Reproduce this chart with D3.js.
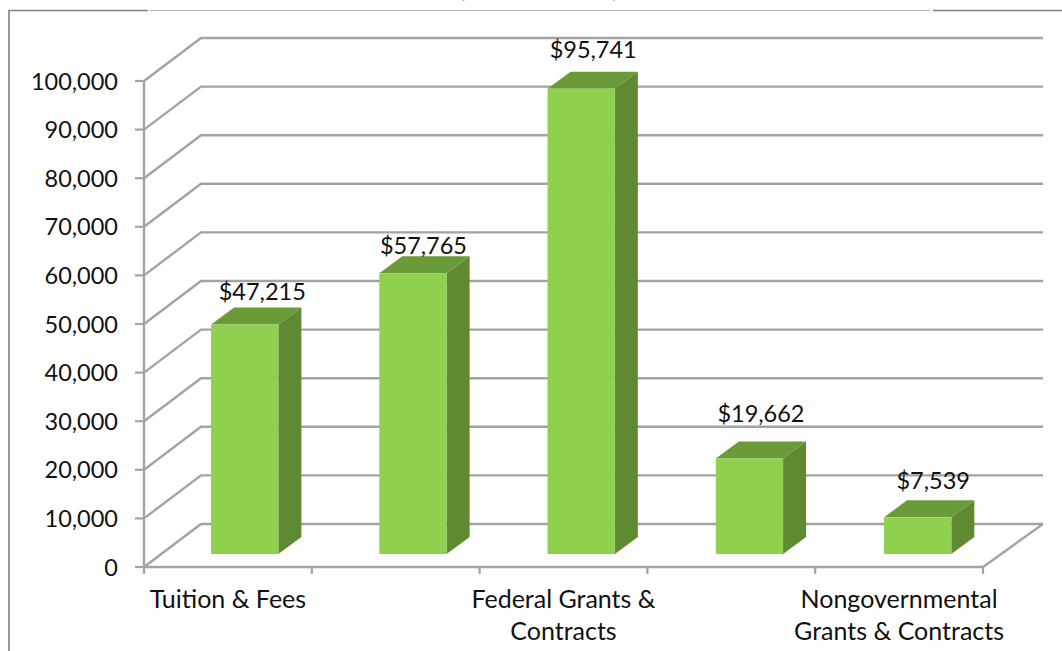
<!DOCTYPE html>
<html><head><meta charset="utf-8">
<script src="https://cdn.jsdelivr.net/npm/d3@7/dist/d3.min.js"></script>
<style>html,body{margin:0;padding:0;background:#fff}svg{display:block}text{font-family:Lato,"Open Sans",sans-serif;fill:#111}</style>
</head><body><svg id="c" width="1062" height="651"></svg>
<script>
const categoryLabels = [["Tuition & Fees"], [], ["Federal Grants &","Contracts"], [], ["Nongovernmental","Grants & Contracts"]];
const values = [47215, 57765, 95741, 19662, 7539];
const valueLabels = ["$47,215","$57,765","$95,741","$19,662","$7,539"];
const yTicks = [0,10000,20000,30000,40000,50000,60000,70000,80000,90000,100000];
const labelNudgeX = [17.5,10.5,12,11.5,15.5];
const labelNudgeY = [-24.5,-19,-30.7,-36,-28];
const fmt = d3.format(",");
const svg = d3.select("#c");
const FS = 23.5, FT = 25;
const y = d3.scaleLinear().domain([0,100000]).range([567,81]);
const edge = d3.scaleLinear().domain([0,5]).range([144,983]);
const band = d3.scaleBand().domain(d3.range(5)).range([160.6,1001.8]).paddingInner(.6).paddingOuter(.3);
const wallDx=57, wallDy=-43, barBase=-13, sideDx=23, sideDy=-17;
const grid="#a3a3a3";
// clipped title fragments and outer frame
svg.append("text").attr("x",462).attr("y",-3).attr("font-size",FT).attr("text-anchor","middle").text("(");
svg.append("text").attr("x",615).attr("y",-3).attr("font-size",FT).attr("text-anchor","middle").text(")");
svg.append("path").attr("d","M9 651V10.5H148").attr("fill","none").attr("stroke","#808080").attr("stroke-width",1.6);
svg.append("path").attr("d","M150 10.5H930").attr("fill","none").attr("stroke","#b5b5b5").attr("stroke-width",1.2);
svg.append("path").attr("d","M933 10.5H1062").attr("fill","none").attr("stroke","#808080").attr("stroke-width",1.6);
// gridlines
svg.append("g").selectAll("path").data(yTicks).join("path")
 .attr("d",d=>`M${edge(0)} ${y(d)}L${edge(0)+wallDx} ${y(d)+wallDy}H${edge(5)+60}`)
 .attr("fill","none").attr("stroke",grid).attr("stroke-width",2.4);
svg.append("path").attr("d",`M${edge(5)} ${y(0)}L${edge(5)+60} ${y(0)+wallDy}`).attr("fill","none").attr("stroke",grid).attr("stroke-width",2.4);
// axes
svg.append("path").attr("d",`M${edge(0)} ${y(100000)}V${y(0)}H${edge(5)}`).attr("fill","none").attr("stroke",grid).attr("stroke-width",2.4);
svg.append("g").selectAll("line").data(yTicks).join("line").attr("x1",135).attr("x2",144).attr("y1",d=>y(d)).attr("y2",d=>y(d)).attr("stroke",grid).attr("stroke-width",2.2);
svg.append("g").selectAll("line").data(d3.range(6)).join("line").attr("x1",d=>edge(d)).attr("x2",d=>edge(d)).attr("y1",567).attr("y2",574).attr("stroke",grid).attr("stroke-width",2.2);
svg.append("g").selectAll("text").data(yTicks).join("text").attr("x",118).attr("y",d=>y(d)+8.5).attr("text-anchor","end").attr("font-size",FS).text(d=>fmt(d));
// bars
const bars=svg.append("g").selectAll("g").data(values).join("g");
const h=d=>y(d)+barBase;
bars.append("path").attr("fill","#5f8a31").attr("d",(d,i)=>{const r=band(i)+band.bandwidth();return `M${r} ${h(0)}L${r+sideDx} ${h(0)+sideDy}V${h(d)+sideDy}L${r} ${h(d)}Z`});
bars.append("path").attr("fill","#6b9a38").attr("d",(d,i)=>{const l=band(i),r=l+band.bandwidth();return `M${l} ${h(d)}L${l+sideDx} ${h(d)+sideDy}H${r+sideDx}L${r} ${h(d)}Z`});
bars.append("rect").attr("fill","#8fd14f").attr("x",(d,i)=>band(i)).attr("width",band.bandwidth()).attr("y",d=>h(d)).attr("height",d=>h(0)-h(d));
bars.append("text").attr("x",(d,i)=>band(i)+band.bandwidth()/2+labelNudgeX[i]).attr("y",(d,i)=>h(d)+labelNudgeY[i]).attr("text-anchor","middle").attr("font-size",FS).text((d,i)=>valueLabels[i]);
// category labels
svg.append("g").selectAll("g").data(categoryLabels).join("g").each(function(lines,i){
  d3.select(this).selectAll("text").data(lines).join("text").attr("x",(edge(i)+edge(i+1))/2).attr("y",(d,j)=>608+j*32).attr("text-anchor","middle").attr("font-size",FT).text(d=>d);
});
</script></body></html>
